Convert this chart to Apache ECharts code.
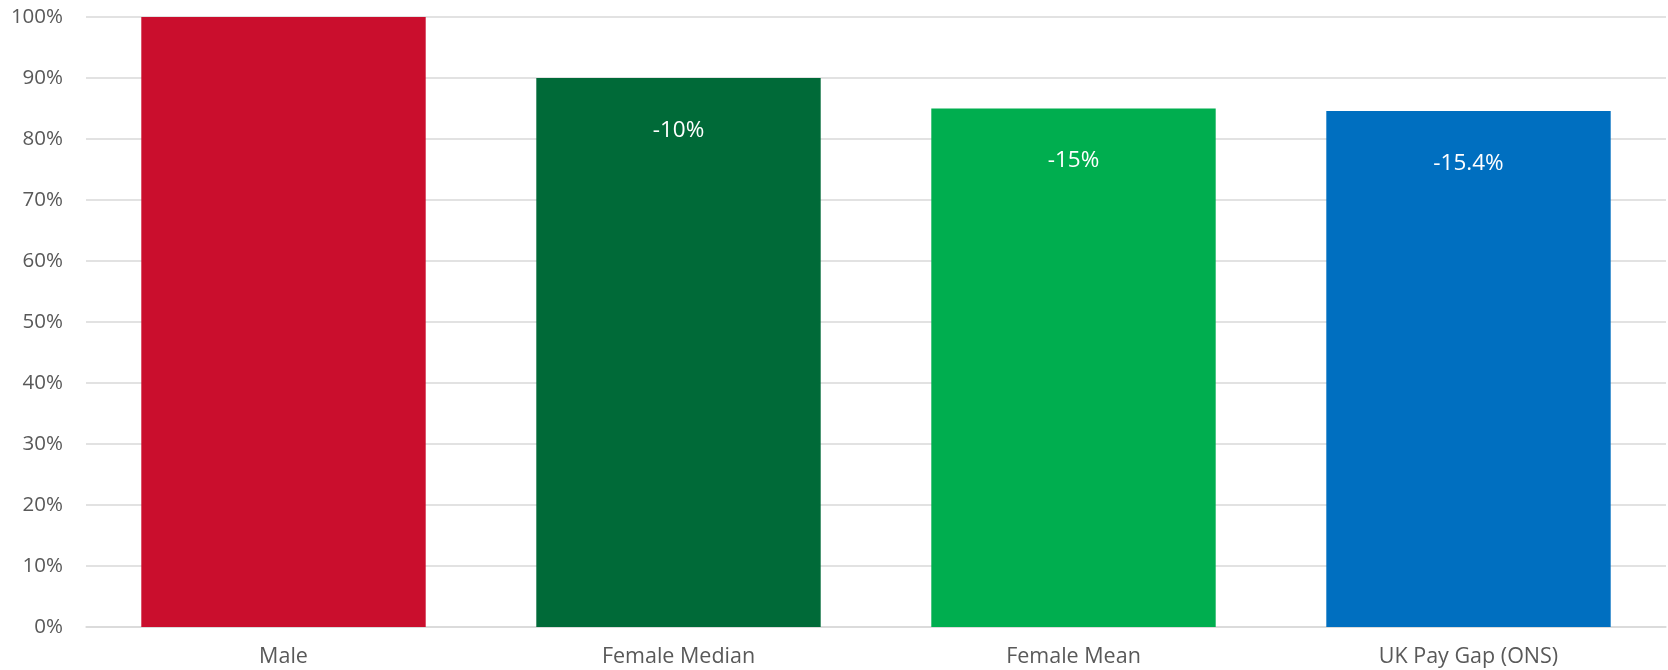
<!DOCTYPE html>
<html><head><meta charset="utf-8">
<script src="https://cdn.jsdelivr.net/npm/echarts@6/dist/echarts.min.js"></script>
<style>html,body{margin:0;padding:0;background:#fff}#c{width:1668px;height:670px}</style>
</head><body><div id="c"></div>
<script>
const categories = ['Male', 'Female Median', 'Female Mean', 'UK Pay Gap (ONS)'];
const values = [100, 90, 85, 84.6];
const barLabels = ['', '-10%', '-15%', '-15.4%'];
const colors = ['#CA0E2D', '#006A38', '#00AE4F', '#006FC0'];
const yTicks = [0, 10, 20, 30, 40, 50, 60, 70, 80, 90, 100];

const FONT = '"Open Sans", sans-serif';
const chart = echarts.init(document.getElementById('c'));
chart.setOption({
  animation: false,
  grid: { left: 86, right: 2, top: 17, bottom: 43 },
  xAxis: {
    type: 'category', data: categories,
    axisLine: { show: true, lineStyle: { color: '#D9D9D9', width: 1.5 } },
    axisTick: { show: false },
    axisLabel: { color: '#595959', fontSize: 21.5, fontFamily: FONT, margin: 19 }
  },
  yAxis: {
    type: 'value', min: 0, max: 100, interval: 10,
    axisLine: { show: false }, axisTick: { show: false },
    splitLine: { lineStyle: { color: '#D9D9D9', width: 1.5 } },
    axisLabel: { color: '#595959', fontSize: 20.5, fontFamily: FONT, margin: 23,
      formatter: v => yTicks.includes(v) ? v + '%' : '' }
  },
  series: [{
    type: 'bar',
    barCategoryGap: '28%',
    data: values.map((v, i) => ({
      value: v,
      itemStyle: { color: colors[i] },
      label: {
        show: barLabels[i] !== '', position: 'insideTop', distance: 41,
        formatter: barLabels[i], color: '#fff', fontSize: 22.5,
        fontFamily: FONT
      }
    }))
  }]
});
</script></body></html>
